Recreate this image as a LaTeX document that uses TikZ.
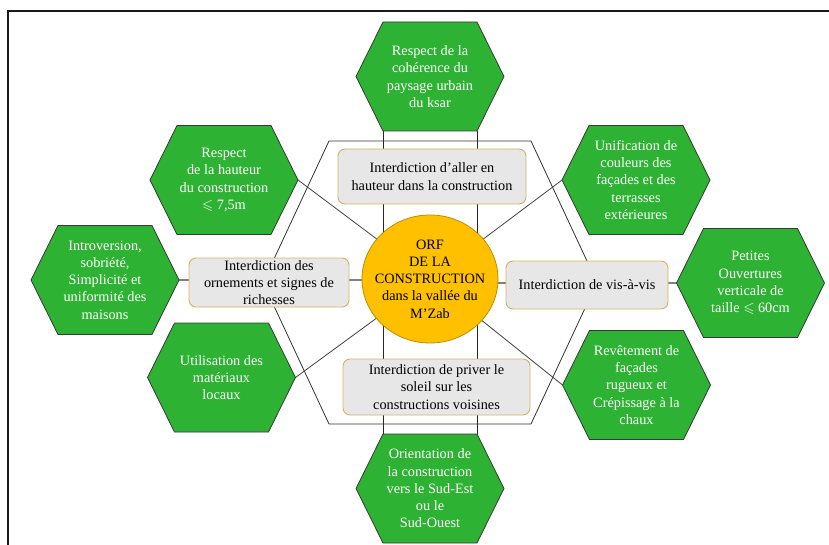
\documentclass[tikz,border=0pt]{standalone}
\usepackage{amssymb}
\usepackage{fontspec}
\setmainfont{Liberation Serif}
\usetikzlibrary{backgrounds}
\definecolor{hexgreen}{RGB}{46,178,51}
\definecolor{hexedge}{RGB}{50,60,50}
\definecolor{orfgold}{RGB}{255,192,0}
\definecolor{orfedge}{RGB}{190,140,0}
\definecolor{rectfill}{RGB}{231,231,231}
\definecolor{rectedge}{RGB}{214,178,96}
\tikzset{
  hexstyle/.style={fill=hexgreen,draw=hexedge,line width=0.8pt},
  hextext/.style={text=white,align=center,inner sep=0pt,font=\fontsize{14.3}{17.3}\selectfont},
  rulebox/.style={rectangle,rounded corners=7pt,fill=rectfill,draw=rectedge,line width=0.9pt,align=center,inner sep=2pt,font=\fontsize{14.3}{17.3}\selectfont},
  orftext/.style={align=center,inner sep=0pt,font=\fontsize{14.3}{17.3}\selectfont},
  orfdisc/.style={fill=orfgold,draw=orfedge,line width=0.8pt},
  hline/.style={draw=black!50,line width=1.4pt},
  dline/.style={draw=black!75,line width=0.8pt},
  vline/.style={draw=black!85,line width=0.8pt},
  outline/.style={draw=black!80,line width=0.8pt},
  frameline/.style={draw=black!90,line width=2pt}
}
\newcommand{\hexnode}[4]{%
  \begin{scope}[shift={(#2,#3)}]
    \coordinate (#1-w) at (-74,0);
    \coordinate (#1-e) at (74,0);
    \coordinate (#1-nw) at (-47,-54.5);
    \coordinate (#1-ne) at (47,-54.5);
    \coordinate (#1-sw) at (-47,54.5);
    \coordinate (#1-se) at (47,54.5);
    \path[hexstyle] (#1-w) -- (#1-nw) -- (#1-ne) -- (#1-e) -- (#1-se) -- (#1-sw) -- cycle;
    \node[hextext] (#1) at (0,0) {#4};
  \end{scope}}
\begin{document}
\begin{tikzpicture}[x=1pt,y=-1pt]
\useasboundingbox (0,0) rectangle (829,545);
% green hexagons
\hexnode{T}{430}{76.5}{Respect de la\\cohérence du\\paysage urbain\\du ksar}
\hexnode{UL}{224}{180}{Respect\\de la hauteur\\du construction\\$\leqslant$ 7,5m}
\hexnode{UR}{636}{180}{Unification de\\couleurs des\\façades et des\\terrasses\\extérieures}
\hexnode{L}{105}{280}{Introversion,\\sobriété,\\Simplicité et\\uniformité des\\maisons}
\hexnode{R}{750.5}{283}{Petites\\Ouvertures\\verticale de\\taille $\leqslant$ 60cm}
\hexnode{LL}{221.5}{377.5}{Utilisation des\\matériaux\\locaux}
\hexnode{LR}{636.5}{385}{Revêtement de\\façades\\rugueux et\\Crépissage à la\\chaux}
\hexnode{B}{430}{488.5}{Orientation de\\la construction\\vers le Sud-Est\\ou le\\Sud-Ouest}
% rule boxes
\node[rulebox,minimum width=188pt,minimum height=55pt] (rt) at (432,176.5) {Interdiction d’aller en\\hauteur dans la construction};
\node[rulebox,minimum width=160pt,minimum height=49pt] (rl) at (269,282.5) {Interdiction des\\ornements et signes de\\richesses};
\node[rulebox,minimum width=162pt,minimum height=48pt] (rr) at (587,285) {Interdiction de vis-à-vis};
\node[rulebox,minimum width=187pt,minimum height=56pt] (rb) at (436.5,387) {Interdiction de priver le\\soleil sur les\\constructions voisines};
% centre
\coordinate (c) at (430,279);
\path[orfdisc] (c) ellipse [x radius=68, y radius=64];
\node[orftext] (ct) at (c) {ORF\\DE LA\\CONSTRUCTION\\dans la vallée du\\M’Zab};
\begin{scope}[on background layer]
  \draw[frameline] (8,11) rectangle (845,560);
  \draw[outline] (329,141) -- (531,141) -- (597,282.5) -- (531,424) -- (329,424) -- (263,282.5) -- cycle;
  \draw[vline] (T-sw) -- (B-nw);
  \draw[vline] (T-se) -- (B-ne);
  \draw[dline] (UL-e) -- (c);
  \draw[dline] (UR-w) -- (c);
  \draw[dline] (LL-e) -- (c);
  \draw[dline] (LR-w) -- (c);
  \draw[hline] (L-e) -- (L-e -| c);
  \draw[hline] (R-w) -- (R-w -| c);
\end{scope}
\end{tikzpicture}
\end{document}
